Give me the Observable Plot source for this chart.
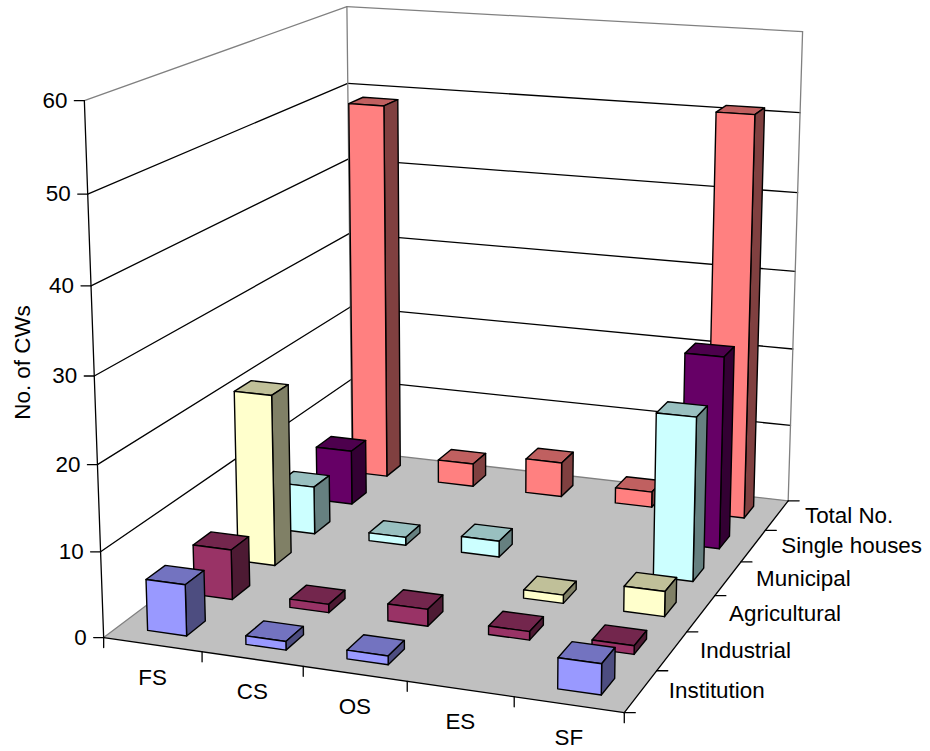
<!DOCTYPE html>
<html><head><meta charset="utf-8">
<script src="https://cdn.jsdelivr.net/npm/d3@7"></script>
<script src="https://cdn.jsdelivr.net/npm/@observablehq/plot@0.6"></script>
<style>html,body{margin:0;padding:0;background:#fff}</style>
</head><body><div id="chart"></div>
<script>
const categories = ["FS","CS","OS","ES","SF"];
const seriesNames = ["Institution","Industrial","Agricultural","Municipal","Single houses","Total No."];
const institution = [6,1,1,0,3.5];
const industrial = [6,1,2,1,1];
const agricultural = [21,0,0,1,3];
const municipal = [6,1,2,0,20];
const singleHouses = [7,0,0,0,24];
const totalNo = [49,3,4.5,2,51];
const zTicks = [0,10,20,30,40,50,60];
const seriesValues = [institution,industrial,agricultural,municipal,singleHouses,totalNo];
const front = ["#9999FF","#993366","#FFFFCC","#CCFFFF","#660066","#FF8080"];
const top_ = ["#7373C0","#73264D","#C0C099","#99C0C0","#4D004D","#C06060"];
const side = ["#4D4D80","#4D1A33","#808066","#668080","#330033","#804040"];

// camera fitted to the visible corners of the 3D box (x along categories, y into depth, z value/60)
const anchors = [
  [0,0,0,103,637],[1,0,0,623,713],[1,1,0,788,499],[0,1,0,352,451],
  [0,0,1,84,100],[0,1,1,346,6],[1,1,1,803,31],
  [1,1,50/60,799,113],[0,1,50/60,346.5,83],[0,0,50/60,88,193]
];
function solve(A,b){const n=b.length,M=A.map((r,i)=>[...r,b[i]]);
  for(let i=0;i<n;i++){let p=i;for(let k=i+1;k<n;k++)if(Math.abs(M[k][i])>Math.abs(M[p][i]))p=k;
    [M[i],M[p]]=[M[p],M[i]];
    for(let k=0;k<n;k++){if(k===i)continue;const f=M[k][i]/M[i][i];for(let j=i;j<=n;j++)M[k][j]-=f*M[i][j];}}
  return M.map((r,i)=>r[n]/r[i]);}
const rowsA=[],rhs=[];
for(const [x,y,z,u,v] of anchors){
  rowsA.push([x,y,z,1,0,0,0,0,-u*x,-u*y,-u*z]);rhs.push(u);
  rowsA.push([0,0,0,0,x,y,z,1,-v*x,-v*y,-v*z]);rhs.push(v);
}
const ATA=d3.range(11).map(i=>d3.range(11).map(j=>d3.sum(rowsA,r=>r[i]*r[j])));
const ATb=d3.range(11).map(i=>d3.sum(rowsA,(r,k)=>r[i]*rhs[k]));
const P=solve(ATA,ATb);
function project(x,y,v){const z=v/60,w=P[8]*x+P[9]*y+P[10]*z+1;
  return [(P[0]*x+P[1]*y+P[2]*z+P[3])/w,(P[4]*x+P[5]*y+P[6]*z+P[7])/w];}

const gapX=0.3, gapY=0.3; // fraction of cell on each side
let fid=0;
function poly(list,pts,fill,stroke){const id=fid++;for(const [px,py] of pts)list.push({px,py,id,fill,stroke});}
const closed=p=>[...p,p[0]];

const lines=[];
function seg(a,b,stroke){poly(lines,[a,b],"none",stroke);}
for(const z of zTicks){
  const c=z===60?"#808080":"#000";
  if(z>0){seg(project(0,0,z),project(0,1,z),c);seg(project(0,1,z),project(1,1,z),c);}
}
seg(project(0,1,0),project(0,1,60),"#808080");
seg(project(1,1,0),project(1,1,60),"#808080");

const floor=[];
poly(floor,closed([project(0,0,0),project(1,0,0),project(1,1,0),project(0,1,0)]),"#C0C0C0","none");
const edges=[];
function eseg(a,b,stroke){poly(edges,[a,b],"none",stroke);}
eseg(project(0,0,0),project(0,1,0),"#808080");
eseg(project(0,1,0),project(1,1,0),"#808080");
eseg(project(0,0,0),project(1,0,0),"#000");
eseg(project(1,0,0),project(1,1,0),"#000");
eseg(project(0,0,0),project(0,0,60),"#000");
for(const z of zTicks){const p=project(0,0,z);eseg([p[0]-10,p[1]],p,"#000");}
d3.range(categories.length+1).forEach(i=>{const p=project(i/5,0,0);eseg(p,[p[0],p[1]+10],"#000");});
d3.range(seriesNames.length+1).forEach(j=>{const p=project(1,j/6,0);eseg(p,[p[0]+11,p[1]],"#000");});

const bars=[];
for(let j=seriesNames.length-1;j>=0;j--){
  categories.forEach((c,i)=>{
    const v=seriesValues[j][i]; if(!v) return;
    const x0=(i+gapX)/5,x1=(i+1-gapX)/5,y0=(j+gapY)/6,y1=(j+1-gapY)/6;
    poly(bars,closed([project(x0,y0,v),project(x1,y0,v),project(x1,y1,v),project(x0,y1,v)]),top_[j],"#000");
    poly(bars,closed([project(x1,y0,0),project(x1,y1,0),project(x1,y1,v),project(x1,y0,v)]),side[j],"#000");
    poly(bars,closed([project(x0,y0,0),project(x1,y0,0),project(x1,y0,v),project(x0,y0,v)]),front[j],"#000");
  });
}
const lineOpts={x:"px",y:"py",z:"id",fill:"fill",stroke:"stroke",curve:"linear",strokeLinejoin:"round"};
const catLabels=categories.map((t,i)=>{const p=project((i+.5)/5,0,0);return {t,x:p[0],y:p[1]};});
const serLabels=seriesNames.map((t,j)=>{const p=project(1,(j+.5)/6,0);return {t,x:p[0],y:p[1]};});
const zLabels=zTicks.map(z=>{const p=project(0,0,z);return {t:String(z),x:p[0],y:p[1]};});
const FS=22.4;
const chart=Plot.plot({
  width:930,height:751,margin:0,
  x:{domain:[0,930],range:[0,930],axis:null},
  y:{domain:[0,751],range:[0,751],axis:null},
  color:{type:"identity"},
  style:{fontFamily:"'Liberation Sans',Arial,sans-serif",background:"#fff"},
  marks:[
    Plot.line(lines,{...lineOpts,strokeWidth:1.3}),
    Plot.line(floor,{...lineOpts}),
    Plot.line(edges,{...lineOpts,strokeWidth:1.3}),
    Plot.line(bars,{...lineOpts,strokeWidth:1.4}),
    Plot.text(catLabels,{x:"x",y:"y",text:"t",fontSize:FS,dy:33,fill:"#000"}),
    Plot.text(serLabels,{x:"x",y:"y",text:"t",fontSize:FS,dx:28,textAnchor:"start",fill:"#000"}),
    Plot.text(zLabels,{x:"x",y:"y",text:"t",fontSize:FS,dx:-17,textAnchor:"end",fill:"#000"}),
    Plot.text(["No. of CWs"],{text:d=>d,x:()=>22,y:()=>362,rotate:-90,fontSize:FS,fill:"#000"})
  ]
});
document.getElementById("chart").appendChild(chart);
</script></body></html>
